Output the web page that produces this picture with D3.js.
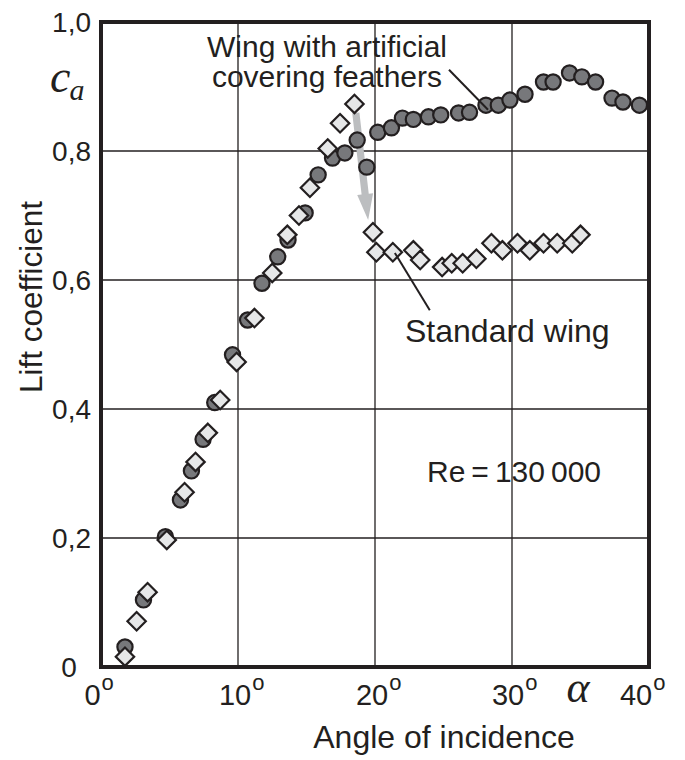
<!DOCTYPE html>
<html><head><meta charset="utf-8">
<script src="https://cdn.jsdelivr.net/npm/d3@7"></script>
<style>
html,body{margin:0;padding:0;background:#fff;}
svg{display:block;font-family:"Liberation Sans",Arial,Helvetica,sans-serif;}
</style></head>
<body><div id="chart"></div>
<script>
// Wing with artificial covering feathers (circles)
const featherAlpha = [1.75,3.1,4.7,5.8,6.6,7.45,8.3,9.6,10.7,11.75,12.9,13.65,14.9,15.85,16.9,17.8,18.7,19.4,20.2,21.2,22.0,22.8,23.9,24.8,26.1,26.9,28.1,29.0,29.85,30.95,32.3,33.0,34.2,35.1,36.1,37.3,38.1,39.3];
const featherCa    = [0.031,0.104,0.202,0.259,0.304,0.353,0.41,0.484,0.538,0.595,0.636,0.662,0.704,0.763,0.789,0.797,0.817,0.775,0.829,0.836,0.851,0.849,0.853,0.856,0.859,0.86,0.871,0.871,0.879,0.888,0.907,0.907,0.921,0.915,0.907,0.882,0.876,0.871];
// Standard wing (diamonds)
const standardAlpha = [1.75,2.6,3.4,4.8,6.1,6.9,7.8,8.7,9.9,11.2,12.5,13.6,14.45,15.25,16.55,17.45,18.5,19.85,20.1,21.3,22.8,23.3,24.9,25.6,26.4,27.4,28.5,29.3,30.4,31.3,32.3,33.3,34.4,35.0];
const standardCa    = [0.016,0.071,0.116,0.197,0.271,0.318,0.363,0.414,0.473,0.541,0.611,0.67,0.70,0.743,0.804,0.843,0.873,0.674,0.643,0.643,0.646,0.631,0.62,0.626,0.626,0.633,0.657,0.646,0.657,0.646,0.657,0.657,0.657,0.67];

const xTicks = [0,10,20,30,40];
const xTickLabels = ["0","10","20","30","40"];
const yTicks = [0,0.2,0.4,0.6,0.8,1.0];
const yTickLabels = ["0","0,2","0,4","0,6","0,8","1,0"];

const W = 685, H = 760;
const m = {left:101, right:36, top:22, bottom:93};
const x = d3.scaleLinear().domain([0,40]).range([m.left, W-m.right]);
const y = d3.scaleLinear().domain([0,1]).range([H-m.bottom, m.top]);

const svg = d3.select("#chart").append("svg").attr("width",W).attr("height",H);
svg.append("rect").attr("width",W).attr("height",H).attr("fill","#fff");
const ink = "#231f20";

// grid
svg.append("g").selectAll("line").data(xTicks.slice(1,-1)).join("line")
  .attr("x1",d=>x(d)).attr("x2",d=>x(d)).attr("y1",y(0)).attr("y2",y(1))
  .attr("stroke",ink).attr("stroke-width",1.3);
svg.append("g").selectAll("line").data(yTicks.slice(1,-1)).join("line")
  .attr("y1",d=>y(d)).attr("y2",d=>y(d)).attr("x1",x(0)).attr("x2",x(40))
  .attr("stroke",ink).attr("stroke-width",1.3);

// arrow (stall drop)
const arrowStart = [18.6, 0.859], arrowEnd = [19.5, 0.693];
(function(){
  const x0=x(arrowStart[0]), y0=y(arrowStart[1]), x1=x(arrowEnd[0]), y1=y(arrowEnd[1]);
  const dx=x1-x0, dy=y1-y0, L=Math.hypot(dx,dy), ux=dx/L, uy=dy/L, px=-uy, py=ux;
  const hw=3.6, headL=26, headW=8;
  const bx=x1-ux*headL, by=y1-uy*headL;
  const pts=[[x0+px*hw,y0+py*hw],[bx+px*hw,by+py*hw],[bx+px*headW,by+py*headW],[x1,y1],
             [bx-px*headW,by-py*headW],[bx-px*hw,by-py*hw],[x0-px*hw,y0-py*hw]];
  svg.append("path").attr("d","M"+pts.map(p=>p.join(",")).join("L")+"Z").attr("fill","#bcbec0");
})();

// circles
svg.append("g").selectAll("circle").data(featherAlpha.map((a,i)=>[a,featherCa[i]])).join("circle")
  .attr("cx",d=>x(d[0])).attr("cy",d=>y(d[1])).attr("r",7.6)
  .attr("fill","#77787b").attr("stroke",ink).attr("stroke-width",2.2);

// diamonds
const s=9.2;
svg.append("g").selectAll("path").data(standardAlpha.map((a,i)=>[a,standardCa[i]])).join("path")
  .attr("transform",d=>`translate(${x(d[0])},${y(d[1])})`)
  .attr("d",`M0,${-s}L${s},0L0,${s}L${-s},0Z`)
  .attr("fill","#e6e7e8").attr("stroke",ink).attr("stroke-width",2.2).attr("stroke-linejoin","miter");

// frame
svg.append("rect").attr("x",x(0)).attr("y",y(1)).attr("width",x(40)-x(0)).attr("height",y(0)-y(1))
  .attr("fill","none").attr("stroke",ink).attr("stroke-width",4);

// y tick labels
svg.append("g").selectAll("text").data(yTicks).join("text")
  .attr("x",(d,i)=> i===0 ? 69 : 91).attr("y",d=>y(d)+10)
  .attr("text-anchor",(d,i)=> i===0 ? "middle" : "end")
  .attr("font-size",28).attr("fill",ink)
  .text((d,i)=>yTickLabels[i]);

// x tick labels with superscript o
const fs=29, dw=0.556*fs;
const xLabelShift = [-8.5,-3,-3,-4,-13];
xTicks.forEach((v,i)=>{
  const lab=xTickLabels[i];
  const t=svg.append("text").attr("x",x(v)-lab.length*dw/2+xLabelShift[i]).attr("y",705)
    .attr("font-size",fs).attr("fill",ink);
  t.append("tspan").text(lab);
  t.append("tspan").attr("font-size",22).attr("dy",-15).attr("dx",1).text("o");
});

// alpha symbol
svg.append("text").attr("x",578).attr("y",702).attr("text-anchor","middle")
  .attr("font-family","'Liberation Serif','DejaVu Serif',serif").attr("font-style","italic")
  .attr("font-size",44).attr("fill",ink).text("α");

// c_a
const ca=svg.append("text").attr("x",50).attr("y",92)
  .attr("font-family","'Liberation Serif','DejaVu Serif',serif").attr("font-style","italic")
  .attr("font-size",46).attr("fill",ink);
ca.append("tspan").text("c");
ca.append("tspan").attr("font-size",30).attr("dy",8).attr("dx",-1).text("a");

// axis titles
svg.append("text").attr("x",444).attr("y",748).attr("text-anchor","middle")
  .attr("font-size",32).attr("fill",ink).text("Angle of incidence");
svg.append("text").attr("transform","translate(42,297) rotate(-90)").attr("text-anchor","middle")
  .attr("font-size",31.5).attr("fill",ink).text("Lift coefficient");

// annotations
const featherLeader=[[25.4,0.926],[28.25,0.864]];
const standardLeader=[[21.45,0.642],[24.0,0.553]];
[featherLeader,standardLeader].forEach(l=>{
  svg.append("line").attr("x1",x(l[0][0])).attr("y1",y(l[0][1])).attr("x2",x(l[1][0])).attr("y2",y(l[1][1]))
    .attr("stroke",ink).attr("stroke-width",2);
});
svg.append("text").attr("x",327).attr("y",57).attr("text-anchor","middle").attr("font-size",30).attr("fill",ink).text("Wing with artificial");
svg.append("text").attr("x",327).attr("y",87).attr("text-anchor","middle").attr("font-size",30).attr("fill",ink).text("covering feathers");
svg.append("text").attr("x",405).attr("y",342).attr("font-size",32).attr("fill",ink).text("Standard wing");
svg.append("text").attr("x",427).attr("y",482).attr("font-size",30).attr("fill",ink).text("Re\u2009=\u2009130\u2009000");
</script></body></html>
